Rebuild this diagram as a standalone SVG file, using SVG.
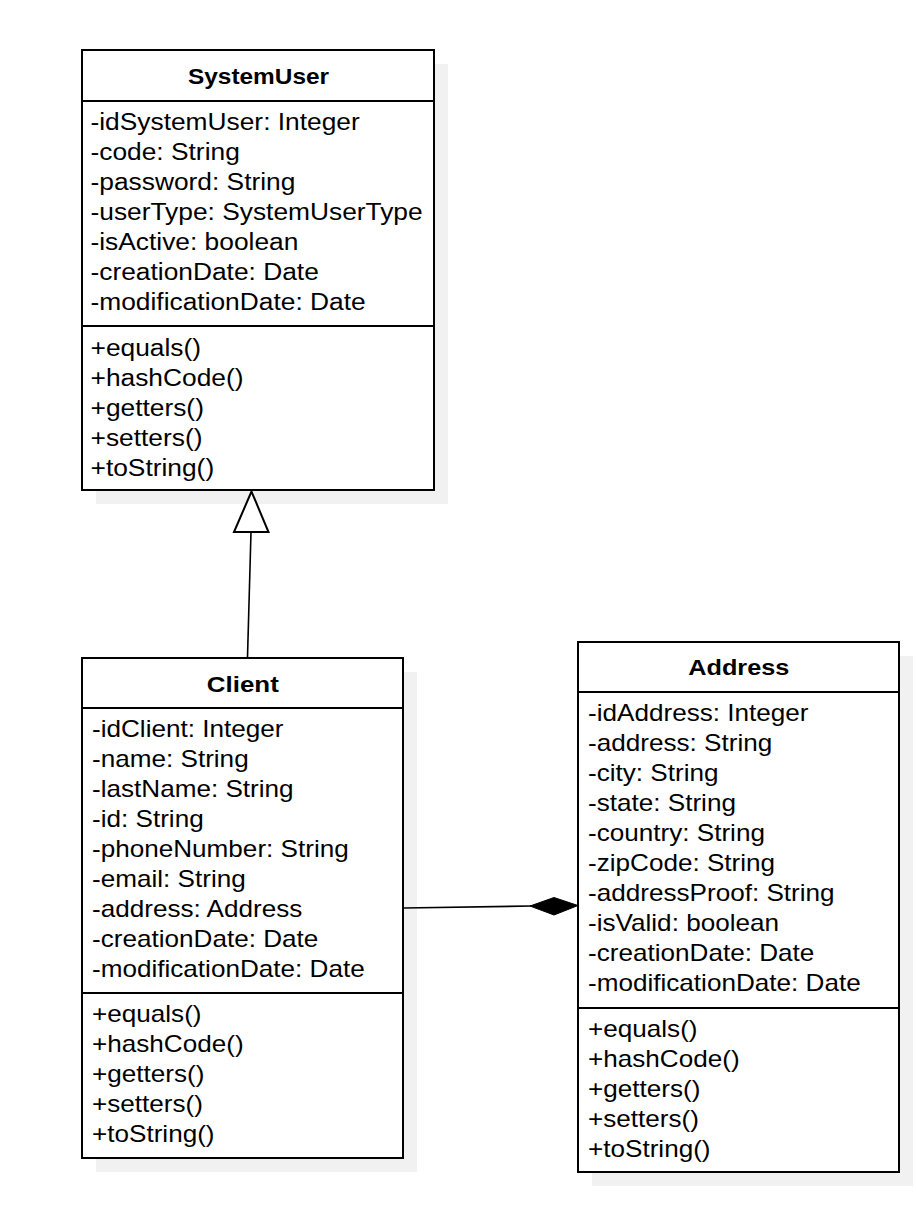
<svg xmlns="http://www.w3.org/2000/svg" width="916" height="1222" viewBox="0 0 916 1222">
<style>
.shadow{fill:#f1f1f1;stroke:none}
.box{fill:#ffffff;stroke:#000000;stroke-width:2}
.div{stroke:#000000;stroke-width:2}
.t{font-family:"Liberation Sans",Arial,sans-serif;font-size:23px;fill:#000000}
.h{font-family:"Liberation Sans",Arial,sans-serif;font-size:22px;font-weight:bold;fill:#000000;text-anchor:middle}
.edge{stroke:#000000;stroke-width:1.6;fill:none}
</style>
<rect width="916" height="1222" fill="#ffffff"/>

<g id="SystemUser">
<rect class="shadow" x="96" y="64" width="352" height="440"/>
<rect class="box" x="82" y="50" width="352" height="440"/>
<line class="div" x1="82" y1="101" x2="434" y2="101"/>
<line class="div" x1="82" y1="326" x2="434" y2="326"/>
<text class="h" x="258.5" y="84" textLength="141" lengthAdjust="spacingAndGlyphs">SystemUser</text>
<g transform="matrix(1.145 0 0 1 90.5 0)">
<text class="t" x="0" y="130">-idSystemUser: Integer</text>
<text class="t" x="0" y="160">-code: String</text>
<text class="t" x="0" y="190">-password: String</text>
<text class="t" x="0" y="220">-userType: SystemUserType</text>
<text class="t" x="0" y="250">-isActive: boolean</text>
<text class="t" x="0" y="280">-creationDate: Date</text>
<text class="t" x="0" y="310">-modificationDate: Date</text>
<text class="t" x="0" y="356">+equals()</text>
<text class="t" x="0" y="386">+hashCode()</text>
<text class="t" x="0" y="416">+getters()</text>
<text class="t" x="0" y="446">+setters()</text>
<text class="t" x="0" y="476">+toString()</text>
</g>
</g>

<g id="Client">
<rect class="shadow" x="96" y="672" width="321" height="500"/>
<rect class="box" x="82" y="658" width="321" height="500"/>
<line class="div" x1="82" y1="708" x2="403" y2="708"/>
<line class="div" x1="82" y1="993" x2="403" y2="993"/>
<text class="h" x="242.8" y="691.5" textLength="72" lengthAdjust="spacingAndGlyphs">Client</text>
<g transform="matrix(1.135 0 0 1 92 0)">
<text class="t" x="0" y="737">-idClient: Integer</text>
<text class="t" x="0" y="767">-name: String</text>
<text class="t" x="0" y="797">-lastName: String</text>
<text class="t" x="0" y="827">-id: String</text>
<text class="t" x="0" y="857">-phoneNumber: String</text>
<text class="t" x="0" y="887">-email: String</text>
<text class="t" x="0" y="917">-address: Address</text>
<text class="t" x="0" y="947">-creationDate: Date</text>
<text class="t" x="0" y="977">-modificationDate: Date</text>
<text class="t" x="0" y="1022">+equals()</text>
<text class="t" x="0" y="1052">+hashCode()</text>
<text class="t" x="0" y="1082">+getters()</text>
<text class="t" x="0" y="1112">+setters()</text>
<text class="t" x="0" y="1142">+toString()</text>
</g>
</g>

<g id="Address">
<rect class="shadow" x="592" y="656" width="321" height="530"/>
<rect class="box" x="578" y="642" width="321" height="530"/>
<line class="div" x1="578" y1="692" x2="899" y2="692"/>
<line class="div" x1="578" y1="1008" x2="899" y2="1008"/>
<text class="h" x="738.8" y="675" textLength="101" lengthAdjust="spacingAndGlyphs">Address</text>
<g transform="matrix(1.135 0 0 1 588 0)">
<text class="t" x="0" y="721">-idAddress: Integer</text>
<text class="t" x="0" y="751">-address: String</text>
<text class="t" x="0" y="781">-city: String</text>
<text class="t" x="0" y="811">-state: String</text>
<text class="t" x="0" y="841">-country: String</text>
<text class="t" x="0" y="871">-zipCode: String</text>
<text class="t" x="0" y="901">-addressProof: String</text>
<text class="t" x="0" y="931">-isValid: boolean</text>
<text class="t" x="0" y="961">-creationDate: Date</text>
<text class="t" x="0" y="991">-modificationDate: Date</text>
<text class="t" x="0" y="1037">+equals()</text>
<text class="t" x="0" y="1067">+hashCode()</text>
<text class="t" x="0" y="1097">+getters()</text>
<text class="t" x="0" y="1127">+setters()</text>
<text class="t" x="0" y="1157">+toString()</text>
</g>
</g>

<g id="connectors">
<g id="inheritance">
<line class="edge" x1="251" y1="532" x2="247.5" y2="657"/>
<polygon points="251.5,491.5 234,532 268.5,532" fill="#ffffff" stroke="#000000" stroke-width="2"/>
</g>
<g id="composition">
<line class="edge" x1="404" y1="908" x2="531" y2="906"/>
<polygon points="530,906 554,897.5 578,905.5 554,915" fill="#000000" stroke="#000000" stroke-width="1"/>
</g>
</g>
</svg>
